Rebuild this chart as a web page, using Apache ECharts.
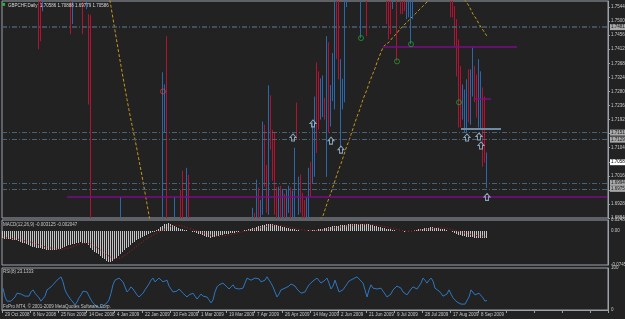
<!DOCTYPE html>
<html><head><meta charset="utf-8">
<script src="https://cdn.jsdelivr.net/npm/echarts@6/dist/echarts.min.js"></script>
<style>html,body{margin:0;padding:0;background:#222222;}#c{width:625px;height:319px;}</style>
</head><body><div id="c"></div>
<script>
const dateLabels = ['29 Oct 2008','6 Nov 2008','25 Nov 2008','14 Dec 2008','4 Jan 2009','22 Jan 2009','10 Feb 2009','1 Mar 2009','19 Mar 2009','7 Apr 2009','26 Apr 2009','14 May 2009','2 Jun 2009','21 Jun 2009','9 Jul 2009','28 Jul 2009','17 Aug 2009','8 Sep 2009'];
// [open, close, low, high]
const ohlc = [
[1.8050,1.7920,1.7850,1.8120],[1.7920,1.8010,1.7880,1.8080],[1.8010,1.8150,1.7960,1.8200],[1.8150,1.8060,1.8000,1.8230],[1.8060,1.7950,1.7900,1.8100],
[1.7950,1.7870,1.7810,1.8000],[1.7870,1.7980,1.7840,1.8030],[1.7980,1.8090,1.7930,1.8140],[1.8090,1.8000,1.7950,1.8150],[1.8000,1.7900,1.7850,1.8060],
[1.7900,1.7820,1.7760,1.7950],[1.7820,1.7900,1.7780,1.7960],[1.7900,1.7850,1.7790,1.7970],[1.7850,1.7780,1.7720,1.7890],[1.7780,1.7850,1.7700,1.7880],
[1.7850,1.7800,1.7740,1.7900],[1.7800,1.7740,1.7680,1.7850],[1.7740,1.7700,1.7640,1.7790],[1.7700,1.7560,1.7412,1.7760],[1.7560,1.7480,1.7437,1.7620],
[1.7600,1.7700,1.7531,1.7760],[1.7700,1.7800,1.7660,1.7850],[1.7800,1.7900,1.7760,1.7950],[1.7900,1.7980,1.7850,1.8050],[1.7980,1.8100,1.7930,1.8150],
[1.8100,1.8040,1.7980,1.8180],[1.8040,1.8150,1.8000,1.8200],[1.8150,1.8080,1.8020,1.8220],[1.8080,1.7980,1.7930,1.8120],[1.7980,1.7900,1.7850,1.8030],
[1.7900,1.7950,1.7840,1.8000],[1.7950,1.7850,1.7800,1.7990],[1.7850,1.7780,1.7720,1.7900],[1.7780,1.7720,1.7660,1.7820],[1.7720,1.7600,1.7459,1.7760],
[1.7600,1.7680,1.7491,1.7720],[1.7680,1.7760,1.7640,1.7800],[1.7760,1.7700,1.7620,1.7820],[1.7700,1.7750,1.7640,1.7790],[1.7750,1.7680,1.7610,1.7780],
[1.7680,1.7600,1.7459,1.7720],[1.7600,1.7650,1.7580,1.7700],[1.7620,1.7700,1.7538,1.7730],[1.7522,1.7260,1.7239,1.7522],[1.7519,1.6700,1.6650,1.7519],
[1.6700,1.6550,1.6480,1.6760],[1.6550,1.6400,1.6350,1.6600],[1.6400,1.6480,1.6320,1.6520],[1.6480,1.6300,1.6250,1.6530],[1.6300,1.6150,1.6100,1.6350],
[1.6150,1.6000,1.5950,1.6200],[1.6000,1.5900,1.5800,1.6050],[1.5900,1.5750,1.5700,1.5950],[1.5750,1.5850,1.5680,1.5900],[1.5850,1.5700,1.5650,1.5900],
[1.5700,1.5900,1.5650,1.5950],[1.5900,1.6100,1.5850,1.6150],[1.6100,1.6300,1.6050,1.6350],[1.6300,1.6500,1.6250,1.6550],[1.6500,1.6800,1.6450,1.6950],
[1.6800,1.6600,1.6550,1.6850],[1.6600,1.6450,1.6400,1.6650],[1.6450,1.6300,1.6250,1.6500],[1.6300,1.6200,1.6150,1.6350],[1.6200,1.6350,1.6150,1.6400],
[1.6350,1.6500,1.6300,1.6550],[1.6500,1.6400,1.6350,1.6580],[1.6400,1.6250,1.6200,1.6450],[1.6250,1.6150,1.6100,1.6300],[1.6150,1.6050,1.6000,1.6200],
[1.6050,1.6200,1.6000,1.6250],[1.6200,1.6350,1.6150,1.6400],[1.6350,1.6250,1.6200,1.6420],[1.6250,1.6400,1.6200,1.6450],[1.6400,1.6550,1.6350,1.6600],
[1.6550,1.6450,1.6400,1.6620],[1.6450,1.6600,1.6400,1.6650],[1.6600,1.6700,1.6550,1.6750],[1.6700,1.6800,1.6650,1.6850],[1.6800,1.6750,1.6700,1.6870],
[1.6750,1.7200,1.6700,1.7340],[1.7180,1.7250,1.7150,1.7302],[1.7250,1.6900,1.6850,1.7453],[1.6880,1.6800,1.6750,1.6880],[1.6800,1.6700,1.6650,1.6850],
[1.6700,1.6780,1.6650,1.6820],[1.6780,1.6900,1.6750,1.6950],[1.6880,1.6820,1.6780,1.6880],[1.6820,1.6850,1.6760,1.6870],[1.6900,1.6820,1.6800,1.6972],
[1.6950,1.6850,1.6820,1.7032],[1.6850,1.6800,1.6750,1.6880],[1.6800,1.6950,1.6780,1.7041],[1.6950,1.6850,1.6820,1.7019],[1.6850,1.6750,1.6700,1.6870],
[1.6750,1.6650,1.6600,1.6780],[1.6650,1.6550,1.6500,1.6700],[1.6550,1.6600,1.6480,1.6650],[1.6600,1.6500,1.6450,1.6650],[1.6500,1.6400,1.6350,1.6550],
[1.6400,1.6450,1.6300,1.6500],[1.6450,1.6350,1.6300,1.6500],[1.6350,1.6250,1.6200,1.6400],[1.6250,1.6350,1.6200,1.6400],[1.6350,1.6450,1.6300,1.6500],
[1.6450,1.6400,1.6350,1.6520],[1.6400,1.6300,1.6250,1.6450],[1.6300,1.6200,1.6150,1.6350],[1.6200,1.6100,1.6050,1.6250],[1.6100,1.6200,1.6050,1.6250],
[1.6200,1.6350,1.6150,1.6400],[1.6350,1.6300,1.6250,1.6420],[1.6300,1.6400,1.6250,1.6450],[1.6400,1.6500,1.6350,1.6550],[1.6500,1.6450,1.6400,1.6580],
[1.6450,1.6550,1.6400,1.6600],[1.6550,1.6500,1.6450,1.6620],[1.6500,1.6600,1.6450,1.6650],[1.6600,1.6550,1.6500,1.6680],[1.6550,1.6650,1.6500,1.6700],
[1.6650,1.6600,1.6550,1.6720],[1.6600,1.6700,1.6550,1.6750],[1.6700,1.6650,1.6600,1.6780],[1.6650,1.6750,1.6600,1.6800],[1.6750,1.6800,1.6700,1.6860],
[1.6800,1.6880,1.6750,1.6916],[1.6880,1.6820,1.6780,1.6900],[1.6820,1.6950,1.6800,1.7004],[1.6950,1.6900,1.6860,1.6979],[1.6880,1.6930,1.6850,1.6941],
[1.6930,1.7150,1.6894,1.7186],[1.7150,1.7000,1.6982,1.7176],[1.7000,1.6930,1.6900,1.7050],[1.6930,1.7250,1.6894,1.7299],[1.7250,1.7120,1.7098,1.7268],
[1.7120,1.7050,1.7000,1.7160],[1.7150,1.6950,1.6894,1.7151],[1.6950,1.6900,1.6870,1.6980],[1.6880,1.6960,1.6860,1.6982],[1.6960,1.6900,1.6870,1.6985],
[1.6900,1.6950,1.6870,1.6975],[1.6950,1.6880,1.6850,1.6960],[1.6880,1.6950,1.6860,1.6972],[1.6950,1.6960,1.6900,1.6985],[1.6960,1.6900,1.6880,1.6980],
[1.6900,1.6950,1.6870,1.6970],[1.6950,1.7080,1.6870,1.7104],[1.7240,1.7140,1.7129,1.7245],[1.6900,1.7000,1.6894,1.7013],[1.7000,1.6950,1.6900,1.7020],
[1.6950,1.6900,1.6870,1.6963],[1.6920,1.6880,1.6860,1.6940],[1.6880,1.6930,1.6860,1.6950],[1.6930,1.7020,1.6870,1.7041],[1.7020,1.6980,1.6950,1.7060],
[1.6994,1.7150,1.6994,1.7183],[1.7100,1.7240,1.7013,1.7264],[1.7300,1.7150,1.7088,1.7371],[1.7300,1.7200,1.7161,1.7343],[1.7200,1.7300,1.7192,1.7321],
[1.7250,1.7300,1.7200,1.7330],[1.7255,1.7200,1.7192,1.7260],[1.7050,1.7400,1.7013,1.7453],[1.7400,1.7200,1.7151,1.7434],[1.7200,1.7280,1.7170,1.7300],
[1.7280,1.7350,1.7250,1.7400],[1.7300,1.7500,1.7224,1.7600],[1.7550,1.7420,1.7381,1.7620],[1.7450,1.7350,1.7318,1.7580],[1.7150,1.7300,1.7107,1.7381],
[1.7250,1.7318,1.7224,1.7320],[1.7320,1.7550,1.7246,1.7650],[1.7560,1.7650,1.7544,1.7700],[1.7650,1.7750,1.7600,1.7800],[1.7750,1.7700,1.7650,1.7820],
[1.7700,1.7800,1.7660,1.7850],[1.7800,1.7750,1.7700,1.7860],[1.7750,1.7700,1.7640,1.7800],[1.7700,1.7650,1.7600,1.7760],[1.7600,1.7700,1.7447,1.7750],
[1.7700,1.7750,1.7650,1.7800],[1.7750,1.7680,1.7620,1.7800],[1.7680,1.7600,1.7453,1.7720],[1.7600,1.7700,1.7580,1.7750],[1.7700,1.7800,1.7680,1.7850],
[1.7800,1.7900,1.7760,1.7950],[1.7900,1.7850,1.7800,1.7960],[1.7850,1.7950,1.7820,1.8000],[1.7950,1.7900,1.7850,1.8020],[1.7900,1.7800,1.7750,1.7950],
[1.7800,1.7750,1.7700,1.7850],[1.7750,1.7680,1.7620,1.7780],[1.7680,1.7600,1.7491,1.7720],[1.7600,1.7560,1.7443,1.7650],[1.7620,1.7580,1.7459,1.7680],
[1.7580,1.7650,1.7538,1.7700],[1.7650,1.7700,1.7600,1.7750],[1.7700,1.7580,1.7374,1.7750],[1.7580,1.7650,1.7570,1.7700],[1.7650,1.7600,1.7522,1.7700],
[1.7620,1.7580,1.7522,1.7660],[1.7600,1.7570,1.7531,1.7640],[1.7570,1.7620,1.7506,1.7660],[1.7600,1.7650,1.7512,1.7680],[1.7600,1.7700,1.7428,1.7720],
[1.7650,1.7720,1.7506,1.7760],[1.7720,1.7800,1.7680,1.7850],[1.7800,1.7900,1.7760,1.7950],[1.7900,1.8000,1.7850,1.8050],[1.8000,1.8100,1.7950,1.8150],
[1.8100,1.8050,1.8000,1.8180],[1.8050,1.8150,1.8000,1.8200],[1.8150,1.8100,1.8050,1.8230],[1.8100,1.8000,1.7950,1.8150],[1.8000,1.8050,1.7950,1.8100],
[1.8050,1.7950,1.7900,1.8100],[1.7950,1.7850,1.7800,1.8000],[1.7850,1.7900,1.7800,1.7950],[1.7900,1.7820,1.7760,1.7950],[1.7820,1.7750,1.7700,1.7860],
[1.7750,1.7780,1.7680,1.7820],[1.7780,1.7700,1.7650,1.7820],[1.7700,1.7650,1.7600,1.7750],[1.7650,1.7620,1.7580,1.7700],[1.7640,1.7580,1.7512,1.7680],
[1.7580,1.7560,1.7512,1.7620],[1.7547,1.7440,1.7421,1.7547],[1.7480,1.7360,1.7327,1.7506],[1.7400,1.7200,1.7167,1.7443],[1.7300,1.7190,1.7167,1.7359],
[1.7200,1.7280,1.7192,1.7302],[1.7180,1.7260,1.7151,1.7286],[1.7200,1.7300,1.7151,1.7318],[1.7320,1.7220,1.7183,1.7349],[1.7220,1.7320,1.7176,1.7349],
[1.7300,1.7400,1.7264,1.7418],[1.7350,1.7280,1.7246,1.7359],[1.7300,1.7220,1.7198,1.7333],[1.7200,1.7320,1.7167,1.7381],[1.7250,1.7300,1.7161,1.7343],
[1.7290,1.7080,1.7044,1.7293],[1.7250,1.7070,1.7057,1.7264],[1.7030,1.7059,1.6978,1.7089]
];
const ma = [
1.880,1.878,1.876,1.873,1.870,1.867,1.864,1.861,1.858,1.855,
1.852,1.849,1.846,1.843,1.840,1.837,1.834,1.831,1.828,1.825,
1.822,1.819,1.816,1.813,1.810,1.807,1.805,1.803,1.801,1.799,
1.797,1.795,1.793,1.791,1.789,1.787,1.785,1.783,1.781,1.779,
1.777,1.775,1.773,1.771,1.769,1.768,1.767,1.766,1.765,1.764,
1.763,1.762,1.760,
1.7580,1.7545,1.7508,1.7470,1.7433,1.7396,1.7360,1.7324,1.7290,1.7255,1.7222,1.7190,1.7160,1.7130,1.7098,1.7065,1.7032,1.6998,1.6963,1.6928,1.6893,
1.6860,1.6825,1.6790,1.6755,1.6720,1.6690,1.6665,1.6645,1.6630,1.6620,
1.6610,1.6600,1.6590,1.6580,1.6570,1.6560,1.6550,1.6540,1.6530,1.6520,
1.6510,1.6500,1.6490,1.6480,1.6470,1.6460,1.6450,1.6440,1.6430,1.6420,
1.6410,1.6405,1.6400,1.6395,1.6390,1.6390,1.6390,1.6395,1.6400,1.6410,
1.6420,1.6430,1.6440,1.6455,1.6470,1.6485,1.6500,1.6515,1.6530,1.6545,
1.6560,1.6575,1.6590,1.6605,1.6620,1.6635,1.6650,1.6665,1.6680,1.6695,
1.6710,1.6720,1.6730,1.6740,1.6750,1.6760,1.6770,1.6780,1.6790,1.6800,
1.6810,1.6815,1.6820,1.6825,1.6830,1.6835,1.6840,1.6845,1.6850,1.6855,
1.6860,1.6863,1.6866,1.6869,1.6872,1.6878,
1.6891,1.6910,1.6929,1.6947,1.6963,1.6982,1.7001,1.7020,1.7038,1.7054,
1.7073,1.7092,1.7111,1.7126,1.7145,1.7164,1.7183,1.7201,1.7217,1.7236,
1.7255,1.7271,1.7286,1.7305,1.7321,1.7337,1.7352,1.7371,1.7387,1.7403,
1.7418,1.7425,1.7431,1.7434,1.7440,1.7450,1.7456,1.7462,1.7472,1.7478,
1.7484,1.7491,1.7497,1.7503,1.7509,1.7516,1.7522,1.7528,1.7535,1.7541,
1.7547,1.7553,1.7560,1.7566,
1.7572,1.7577,1.7582,1.7586,1.7589,1.7591,1.7592,1.7592,1.7591,1.7590,
1.7588,1.7586,1.7584,1.7582,1.7579,1.7576,1.7573,1.7569,
1.7557,1.7547,1.7535,1.7522,1.7513,1.7503,1.7491,1.7481,1.7472,1.7462,1.7453
];
const macdMain = [
-0.016,-0.017,-0.018,-0.017,-0.018,-0.019,-0.020,-0.019,-0.021,
-0.023,-0.025,-0.027,-0.029,-0.031,-0.033,-0.034,-0.035,-0.036,-0.037,
-0.038,-0.039,-0.040,-0.041,-0.042,-0.042,-0.041,-0.042,-0.041,-0.040,-0.039,-0.038,
-0.035,-0.033,-0.031,-0.030,-0.029,-0.028,
-0.026,-0.025,-0.024,-0.025,-0.026,-0.027,
-0.031,-0.036,-0.041,-0.045,-0.048,-0.051,
-0.055,-0.059,-0.062,-0.065,-0.067,-0.068,
-0.066,-0.062,-0.058,-0.054,-0.050,-0.046,-0.042,
-0.038,-0.034,-0.030,-0.027,-0.024,-0.020,-0.017,
-0.014,-0.012,-0.010,-0.008,-0.006,-0.004,-0.002,-0.001,
0.002,0.005,0.009,0.012,0.015,0.017,0.018,
0.016,0.014,0.012,0.010,0.008,0.006,0.005,0.003,
0.002,0.001,0.000,-0.001,-0.002,-0.003,-0.005,
-0.007,-0.009,-0.011,-0.012,-0.013,-0.014,-0.013,-0.012,-0.011,-0.010,
-0.009,-0.008,-0.007,-0.006,-0.005,-0.004,-0.004,-0.003,-0.002,-0.001,0.000,0.001,
0.002,0.003,0.005,0.006,0.007,0.008,0.009,0.011,0.012,0.013,
0.014,0.015,0.016,0.016,0.015,0.014,
0.013,0.012,0.011,0.010,0.009,0.008,0.007,0.006,0.005,0.004,0.003,0.002,
0.001,0.001,0.000,0.001,0.002,0.001,0.002,0.003,0.003,0.004,
0.005,0.006,0.007,0.008,0.009,0.010,0.011,0.011,0.012,0.012,0.013,0.013,
0.014,0.014,0.015,0.015,0.016,0.016,0.017,0.017,0.017,0.016,0.016,0.015,0.015,
0.014,0.013,0.012,0.011,0.010,0.009,0.008,0.007,0.006,0.005,0.004,0.003,0.002,
0.001,0.001,0.000,0.000,-0.001,0.000,0.001,0.000,0.001,0.002,0.003,0.004,
0.005,0.006,0.007,0.008,0.008,0.009,0.009,0.008,0.008,0.007,0.006,0.005,
0.004,0.003,0.001,0.000,-0.002,-0.004,-0.006,
-0.008,-0.009,-0.010,-0.011,-0.012,-0.012,-0.013,-0.013,-0.014,-0.014,-0.014,-0.014,-0.014,-0.014,-0.014
];
const macdSignal = [
-0.014,-0.015,-0.015,-0.016,-0.016,-0.017,-0.017,-0.018,-0.018,-0.019,
-0.020,-0.021,-0.022,-0.023,-0.024,-0.026,-0.027,-0.029,-0.030,-0.031,
-0.033,-0.034,-0.035,-0.036,-0.037,-0.038,-0.039,-0.040,-0.040,-0.040,
-0.040,-0.039,-0.038,-0.037,-0.036,-0.034,-0.032,-0.031,-0.029,-0.028,
-0.027,-0.026,-0.026,-0.027,-0.028,-0.030,-0.033,-0.036,-0.039,-0.042,
-0.046,-0.049,-0.052,-0.055,-0.058,-0.060,-0.061,-0.061,-0.060,-0.058,
-0.056,-0.053,-0.050,-0.046,-0.043,-0.039,-0.036,-0.032,-0.029,-0.025,
-0.022,-0.019,-0.016,-0.013,-0.011,-0.008,-0.006,-0.004,-0.002,0.000,
0.003,0.005,0.007,0.009,0.011,0.012,0.013,0.013,0.013,0.012,
0.011,0.010,0.008,0.007,0.005,0.004,0.002,0.001,0.000,-0.002,
-0.003,-0.005,-0.006,-0.008,-0.009,-0.010,-0.011,-0.011,-0.011,-0.011,
-0.010,-0.010,-0.009,-0.008,-0.007,-0.006,-0.005,-0.004,-0.003,-0.002,
-0.001,0.000,0.001,0.002,0.003,0.004,0.005,0.006,0.007,0.008,
0.009,0.010,0.011,0.012,0.013,0.013,0.014,0.014,0.013,0.013,
0.012,0.011,0.010,0.009,0.008,0.007,0.006,0.005,0.004,0.003,
0.003,0.002,0.002,0.002,0.002,0.002,0.002,0.002,0.002,0.003,
0.003,0.004,0.005,0.005,0.006,0.007,0.008,0.008,0.009,0.010,
0.010,0.011,0.012,0.012,0.013,0.013,0.014,0.014,0.015,0.015,
0.015,0.016,0.016,0.016,0.015,0.015,0.014,0.014,0.013,0.012,
0.011,0.010,0.009,0.008,0.007,0.006,0.005,0.004,0.003,0.002,
0.001,0.001,0.000,0.000,0.000,0.001,0.001,0.001,0.002,0.003,
0.003,0.004,0.005,0.005,0.006,0.007,0.007,0.007,0.008,0.007,
0.007,0.006,0.006,0.005,0.004,0.003,0.002,0.001,-0.001,-0.002,
-0.003,-0.004,-0.005,-0.006,-0.007,-0.008,-0.009,-0.010,-0.010,-0.011,-0.011,-0.012,-0.012
];
const rsi = [
52,31,21,19,21,24,31,40,43,38, 36,33,31,33,43,48,40,36,29,21,
24,33,48,50,55,60,64,71,74,79, 67,48,38,31,24,19,12,19,29,36,
45,48,43,33,24,17,12,10,5,7, 10,12,17,24,40,60,71,74,76,74,
67,55,43,48,55,50,43,36,31,33, 40,48,52,62,71,76,67,71,76,74,
67,69,71,57,50,43,40,45,50,48, 40,36,31,36,40,40,33,26,24,38,
33,29,31,24,17,24,43,55,60,62, 64,60,55,50,55,60,52,48,50,52,
52,64,76,76,71,71,76,79,74,67, 64,71,79,76,64,55,43,31,38,48,
50,52,52,57,62,64,57,50,45,40, 36,43,52,60,64,69,71,76,74,64,
62,71,76,64,50,57,71,57,43,40, 48,55,62,69,71,74,76,79,76,69,
64,48,31,48,60,52,48,50,52,52, 45,38,31,29,38,48,52,57,60,52,
43,40,36,43,50,55,52,50,52,64, 76,71,64,71,76,69,52,48,45,40,
33,29,38,48,38,29,24,19,17,14, 14,14,17,31,48,48,36,33,40,43,
29,21,23.1333
];
const dashDotLevels = [1.74813,1.71512,1.71292,1.69940,1.69752];
const purpleSegments = [[32,302,1.69500],[190,257,1.74184],[236,244,1.72581]];
const greySegments = [[229,249,1.71638]];
const lastPrice = 1.70586;
const greenMarks = [[179,1.7447],[197,1.7374],[204,1.7428],[228,1.7246]];
const redMarks = [[80,1.7280]];
const arrowMarks = [[145,1.7136],[155,1.7180],[164,1.7126],[169,1.7098],[232,1.7136],[238,1.7139],[239,1.7111],[242,1.6950]];
const titleText = 'GBPCHF,Daily  1.70586 1.70888 1.69779 1.70586';
const macdText = 'MACD(12,26,9) -0.003125 -0.002047';
const rsiText = 'RSI(8) 23.1333';
const copyText = 'FxPro MT4, © 2001-2009 MetaQuotes Software Corp.';

const N = 303;
const cats = [];
for (let i = 0; i < N; i++) cats.push(i % 14 === 0 && i / 14 < dateLabels.length ? dateLabels[i / 14] : '');
const barRows = ohlc.map((d, i) => [i, d[0], d[1], d[2], d[3]]);
const histRows = macdMain.map((v, i) => [i, v]);

const FONT = 'Liberation Sans';
const FS = 4.5;
const AX = '#9aa2aa';
const TXT = '#c8c8c8';
const UP = '#2a68ab';
const DOWN = '#b31230';
const lbl = (bg, fg) => ({show: true, position: 'end', distance: 2, fontSize: FS, fontFamily: FONT,
  color: fg, backgroundColor: bg, padding: [1, 1, 0, 1], formatter: p => Number(p.value).toFixed(5)});

const markData = [];
dashDotLevels.forEach((v, k) => markData.push({yAxis: v,
  lineStyle: {color: k === 0 ? '#4a6172' : '#4a6275', width: k === 0 ? 1.5 : 1, type: [5, 2, 1, 2]},
  label: lbl('#a8a8a8', '#1a1a1a')}));
markData.push({yAxis: lastPrice, lineStyle: {color: 'rgba(0,0,0,0)'}, label: lbl('#ffffff', '#000000')});
purpleSegments.forEach(s => markData.push([{coord: [s[0], s[2]], lineStyle: {color: '#7a0b88', width: 1.5, type: 'solid'}, label: {show: false}}, {coord: [s[1], s[2]]}]));
greySegments.forEach(s => markData.push([{coord: [s[0], s[2]], lineStyle: {color: '#6f8aa3', width: 2, type: 'solid'}, label: {show: false}}, {coord: [s[1], s[2]]}]));

const xBase = (g, show) => ({gridIndex: g, type: 'category', data: cats, boundaryGap: true,
  axisLine: {show: show, lineStyle: {color: AX}},
  axisTick: {show: show, interval: (i) => i % 14 === 0, length: 3, lineStyle: {color: AX}},
  axisLabel: {show: show, interval: 0, fontSize: FS, fontFamily: FONT, color: TXT, align: 'left', margin: 2, padding: [0, 0, 0, 2]},
  splitLine: {show: false}});

function renderBar(params, api) {
  const i = api.value(0), o = api.value(1), c = api.value(2), l = api.value(3), h = api.value(4);
  const pH = api.coord([i, h]);
  const pL = api.coord([i, l]);
  const x = Math.round(pH[0]) - 0.5;
  const col = c >= o ? UP : DOWN;
  return {type: 'line', shape: {x1: x, y1: pH[1], x2: x, y2: pL[1]}, style: {stroke: col, lineWidth: 1}};
}
function renderHist(params, api) {
  const i = api.value(0), v = api.value(1);
  const p0 = api.coord([i, 0]);
  const p1 = api.coord([i, v]);
  const x = Math.round(p0[0]) - 0.5;
  return {type: 'line', shape: {x1: x, y1: Math.round(p0[1]), x2: x, y2: Math.round(p1[1])}, style: {stroke: '#c4c4c4', lineWidth: 1}};
}

const gridBase = {left: 2, right: 17, show: true, borderColor: AX, borderWidth: 1, containLabel: false, outerBoundsMode: 'none'};
const tStyle = (c) => ({fontSize: FS, color: c, fontFamily: FONT, fontWeight: 'normal'});

const chart = echarts.init(document.getElementById('c'), null, {renderer: 'canvas'});
chart.setOption({
  backgroundColor: '#222222',
  animation: false,
  title: [
    {text: '■', left: 2, top: 1, padding: 0, textStyle: {fontSize: 6, color: '#2fae3a', fontFamily: FONT}},
    {text: titleText, left: 8, top: 3, padding: 0, textStyle: tStyle('#d8d8d8')},
    {text: macdText, left: 3, top: 222, padding: 0, textStyle: tStyle(TXT)},
    {text: rsiText, left: 3, top: 269, padding: 0, textStyle: tStyle(TXT)},
    {text: copyText, left: 3, top: 304, padding: 0, textStyle: tStyle(TXT)}
  ],
  grid: [
    Object.assign({top: 1, height: 217}, gridBase),
    Object.assign({top: 220, height: 45}, gridBase),
    Object.assign({top: 268, height: 42}, gridBase)
  ],
  xAxis: [xBase(0, false), xBase(1, false), xBase(2, true)],
  yAxis: [
    {gridIndex: 0, type: 'value', position: 'right', min: 1.6884, max: 1.7563, interval: 0.0044,
      splitLine: {show: false}, axisLine: {show: true, lineStyle: {color: AX}}, axisTick: {show: true, length: 2, lineStyle: {color: AX}},
      axisLabel: {fontSize: FS, fontFamily: FONT, color: TXT, margin: 3, showMaxLabel: false, formatter: v => v.toFixed(5)}},
    {gridIndex: 1, type: 'value', position: 'right', min: -0.07452, max: 0.02484, interval: 0.02484,
      splitLine: {show: false}, axisLine: {show: true, lineStyle: {color: AX}}, axisTick: {show: false},
      axisLabel: {fontSize: FS, fontFamily: FONT, color: TXT, margin: 3,
        formatter: v => Math.abs(v) < 1e-9 ? '0.00' : (Math.abs(v - 0.02484) < 1e-9 || Math.abs(v + 0.07452) < 1e-9) ? v.toFixed(6) : ''}},
    {gridIndex: 2, type: 'value', position: 'right', min: 0, max: 100, interval: 100,
      splitLine: {show: false}, axisLine: {show: true, lineStyle: {color: AX}}, axisTick: {show: false},
      axisLabel: {fontSize: FS, fontFamily: FONT, color: TXT, margin: 3}}
  ],
  series: [
    {type: 'line', xAxisIndex: 0, yAxisIndex: 0, data: ma, symbol: 'none', clip: true, silent: true,
      lineStyle: {color: '#c9971c', width: 1, type: [3, 2]}, z: 2},
    {type: 'custom', xAxisIndex: 0, yAxisIndex: 0, data: barRows, renderItem: renderBar, clip: true, silent: true,
      encode: {x: 0, y: [1, 2, 3, 4]}, z: 3,
      markLine: {silent: true, precision: 5, symbol: ['none', 'none'], animation: false, data: markData}},
    {type: 'scatter', xAxisIndex: 0, yAxisIndex: 0, data: greenMarks, symbol: 'circle', symbolSize: 5, silent: true,
      itemStyle: {color: 'rgba(0,0,0,0)', borderColor: '#22a02a', borderWidth: 1}, z: 5},
    {type: 'scatter', xAxisIndex: 0, yAxisIndex: 0, data: redMarks, symbol: 'circle', symbolSize: 5, silent: true,
      itemStyle: {color: 'rgba(0,0,0,0)', borderColor: '#c83a4a', borderWidth: 1}, z: 5},
    {type: 'scatter', xAxisIndex: 0, yAxisIndex: 0, data: arrowMarks, symbol: 'path://M4,0 L8,4 L6,4 L6,8 L2,8 L2,4 L0,4 Z', symbolSize: [6, 7], silent: true,
      itemStyle: {color: 'rgba(0,0,0,0)', borderColor: '#a8c8e0', borderWidth: 1}, z: 5},
    {type: 'custom', xAxisIndex: 1, yAxisIndex: 1, data: histRows, renderItem: renderHist, clip: true, silent: true,
      encode: {x: 0, y: 1}},
    {type: 'line', xAxisIndex: 1, yAxisIndex: 1, data: macdSignal, symbol: 'none', silent: true,
      lineStyle: {color: '#c01a1a', width: 1, type: [1, 2]}, z: 4},
    {type: 'line', xAxisIndex: 2, yAxisIndex: 2, data: rsi, symbol: 'none', silent: true,
      lineStyle: {color: '#2b78c2', width: 1}}
  ]
});
</script>
</body></html>
